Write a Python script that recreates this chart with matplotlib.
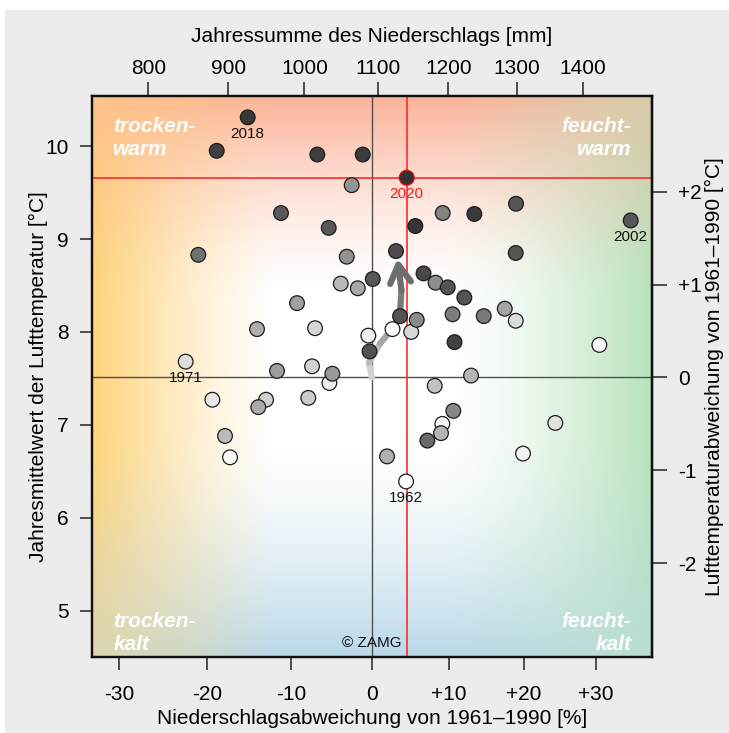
import numpy as np
import matplotlib

matplotlib.use("Agg")

import matplotlib.pyplot as plt
from matplotlib.collections import LineCollection
from matplotlib.patches import Rectangle
from matplotlib.ticker import FixedLocator, FuncFormatter


YEARS = list(range(1961, 2021))

# Niederschlagsabweichung [%] und Jahresmittel der Lufttemperatur [°C], 1961..2020
PRECIP_DEV = [
    2.65, 4.4, -17.33, 30.53, 9.12, 19.93, -0.43, -5.32, -19.40, 24.37,
    -22.48, 18.94, 5.06, -7.09, -7.46, -13.05, -7.92, 8.12, -17.92, -3.90,
    12.92, 8.95, 1.95, -14.13, -13.98, -1.76, 17.45, -9.30, -11.73, -4.95,
    -2.53, -3.15, 8.23, 5.78, 10.57, 9.17, 10.47, 14.62, -21.03, 7.16,
    -11.25, 34.99, -5.40, 0.13, 18.98, 18.94, 9.83, 12.03, 3.62, -0.28,
    3.10, 6.66, 10.73, -18.89, -6.81, -1.14, 13.36, -15.24, 5.60, 4.48,
]
TEMP_MEAN = [
    8.03, 6.39, 6.65, 7.86, 7.01, 6.69, 7.96, 7.45, 7.27, 7.02,
    7.68, 8.12, 8.00, 8.04, 7.63, 7.27, 7.29, 7.42, 6.88, 8.52,
    7.53, 6.91, 6.66, 8.03, 7.19, 8.47, 8.25, 8.31, 7.58, 7.55,
    9.58, 8.81, 8.53, 8.13, 7.15, 9.28, 8.19, 8.17, 8.83, 6.83,
    9.28, 9.20, 9.12, 8.57, 9.38, 8.85, 8.48, 8.37, 8.17, 7.79,
    8.87, 8.63, 7.89, 9.95, 9.91, 9.91, 9.27, 10.31, 9.14, 9.66,
]
LABELLED_YEARS = [1962, 1971, 2002, 2018, 2020]

# gleitende Klimamittel (Pfeil)
TREND_PRECIP_DEV = [0.0, -0.35, 1.1, 2.6, 3.6, 3.8, 3.3]
TREND_TEMP = [7.51, 7.67, 7.88, 8.03, 8.17, 8.45, 8.79]

NORMAL_TEMP = 7.51
NORMAL_PRECIP_MM = 1091.7

X_TICKS = [-30, -20, -10, 0, 10, 20, 30]
TOP_TICKS_MM = [800, 900, 1000, 1100, 1200, 1300, 1400]
Y_TICKS = [5, 6, 7, 8, 9, 10]
ANOMALY_TICKS = [-2, -1, 0, 1, 2]

X_LIMITS = (-32.92, 38.05)
Y_LIMITS = (4.50, 10.54)

POWER = 0.6

# Grauwert je Jahr (hell = frueh, dunkel = spaet)
SHADE_YEARS = [1961, 1967, 1971, 1977, 1979, 1985, 1990, 1995, 1998, 2000, 2001, 2010, 2013, 2020]
SHADE_GRAY = [1.0, 0.94, 0.87, 0.80, 0.73, 0.67, 0.60, 0.53, 0.47, 0.41, 0.35, 0.32, 0.26, 0.20]


def fwd_pct(p):
    return np.power(np.clip(1 + np.asarray(p, dtype=float) / 100.0, 1e-6, None), POWER)


def inv_pct(t):
    return (np.power(np.clip(np.asarray(t, dtype=float), 1e-6, None), 1 / POWER) - 1) * 100.0


def fwd_mm(mm):
    return np.power(np.clip(np.asarray(mm, dtype=float) / NORMAL_PRECIP_MM, 1e-6, None), POWER)


def inv_mm(t):
    return np.power(np.clip(np.asarray(t, dtype=float), 1e-6, None), 1 / POWER) * NORMAL_PRECIP_MM


def signed(value, _pos=None):
    if abs(value) < 1e-9:
        return "0"
    return f"{value:+.0f}"


def background_image(n=300):
    u = np.broadcast_to(np.linspace(0, 1, n)[None, :], (n, n))
    v = np.broadcast_to(np.linspace(0, 1, n)[:, None], (n, n))

    def fade(dist, width, gamma=1.5):
        return np.clip(1 - dist / width, 0, 1) ** gamma

    layers = [
        (fade(u, 0.33, 1.3), (1.00, 0.83, 0.48)),   # trocken
        (fade(1 - u, 0.38), (0.72, 0.89, 0.74)),    # feucht
        (fade(1 - v, 0.36), (0.99, 0.70, 0.60)),    # warm
        (fade(v, 0.40, 1.6), (0.73, 0.85, 0.91)),   # kalt
    ]
    total = np.zeros((n, n))
    mix = np.zeros((n, n, 3))
    keep = np.ones((n, n))
    for weight, color in layers:
        total += weight
        mix += weight[..., None] * np.array(color)
        keep *= 1 - weight
    mix = mix / np.maximum(total, 1e-9)[..., None]
    strength = (1 - keep)[..., None]
    return (1 - strength) * np.ones(3) + strength * mix


plt.rcParams["font.family"] = ["Liberation Sans", "DejaVu Sans"]
plt.rcParams["axes.unicode_minus"] = False

fig = plt.figure(figsize=(7.29, 7.33), dpi=100, facecolor="white")
fig.patches.append(
    Rectangle((5 / 729, 0), 1, 723 / 733, transform=fig.transFigure,
              facecolor="#ececec", edgecolor="none", zorder=-10)
)
ax = fig.add_axes([92 / 729, 76 / 733, 560 / 729, 561 / 733])
ax.set_xscale("function", functions=(fwd_pct, inv_pct))

ax.imshow(background_image(), extent=(0, 1, 0, 1), transform=ax.transAxes,
          origin="lower", aspect="auto", interpolation="bilinear", zorder=0)

ax.set_xlim(*X_LIMITS)
ax.set_ylim(*Y_LIMITS)

ax.axhline(NORMAL_TEMP, color="#505050", lw=1.0, zorder=1)
ax.axvline(0, color="#505050", lw=1.0, zorder=1)
ax.axhline(TEMP_MEAN[-1], color="#ff2b2b", lw=1.2, zorder=1)
ax.axvline(PRECIP_DEV[-1], color="#ff2b2b", lw=1.2, zorder=1)

# Pfeil der Klimamittel
trend_pts = np.column_stack([TREND_PRECIP_DEV, TREND_TEMP])
segments = [trend_pts[i:i + 2] for i in range(len(trend_pts) - 2)]
seg_gray = np.linspace(0.82, 0.48, len(segments))
ax.add_collection(LineCollection(segments, colors=[(g, g, g) for g in seg_gray],
                                 linewidths=4.5, capstyle="round", joinstyle="round", zorder=2))
ax.annotate("", xy=trend_pts[-1], xytext=trend_pts[-2],
            arrowprops=dict(arrowstyle="->,head_length=1.3,head_width=0.75",
                            color="#6e6e6e", lw=4.5, shrinkA=0, shrinkB=0,
                            capstyle="round", joinstyle="round"),
            zorder=2)

years = np.array(YEARS)
gray = np.interp(years, SHADE_YEARS, SHADE_GRAY)
face = [(g, g, g) for g in gray]
edge = ["#1c1c1c"] * len(YEARS)
edge[-1] = "#e00000"
ax.scatter(PRECIP_DEV, TEMP_MEAN, s=112, c=face, edgecolors=edge, linewidths=0.9, zorder=4)

for year in LABELLED_YEARS:
    i = YEARS.index(year)
    ax.annotate(str(year), (PRECIP_DEV[i], TEMP_MEAN[i]), xytext=(0, -12),
                textcoords="offset points", ha="center", va="center", fontsize=11,
                color="#ff1a1a" if year == 2020 else "#111111", zorder=5)

quad_style = dict(transform=ax.transAxes, color="white", fontsize=15,
                  fontweight="bold", fontstyle="italic", linespacing=1.25, zorder=3)
ax.text(0.038, 0.962, "trocken-\nwarm", ha="left", va="top", **quad_style)
ax.text(0.963, 0.962, "feucht-\nwarm", ha="right", va="top", multialignment="right", **quad_style)
ax.text(0.038, 0.005, "trocken-\nkalt", ha="left", va="bottom", **quad_style)
ax.text(0.963, 0.005, "feucht-\nkalt", ha="right", va="bottom", multialignment="right", **quad_style)
ax.text((371.5 - 92) / 560, 0.012, "© ZAMG", transform=ax.transAxes, ha="center",
        va="bottom", fontsize=11, color="#111111", zorder=3)

ax.xaxis.set_major_locator(FixedLocator(X_TICKS))
ax.xaxis.set_major_formatter(FuncFormatter(signed))
ax.yaxis.set_major_locator(FixedLocator(Y_TICKS))
ax.yaxis.set_minor_locator(FixedLocator([]))
ax.xaxis.set_minor_locator(FixedLocator([]))
ax.tick_params(axis="both", direction="out", length=9, width=1.1, labelsize=15,
               color="#222222", pad=8)
ax.tick_params(axis="x", pad=11)
ax.set_xlabel("Niederschlagsabweichung von 1961–1990 [%]", fontsize=15, labelpad=4)
ax.set_ylabel("Jahresmittelwert der Lufttemperatur [°C]", fontsize=15, labelpad=-2)

ax_top = ax.twiny()
ax_top.set_xscale("function", functions=(fwd_mm, inv_mm))
ax_top.set_xlim(NORMAL_PRECIP_MM * (1 + X_LIMITS[0] / 100), NORMAL_PRECIP_MM * (1 + X_LIMITS[1] / 100))
ax_top.xaxis.set_major_locator(FixedLocator(TOP_TICKS_MM))
ax_top.xaxis.set_minor_locator(FixedLocator([]))
ax_top.tick_params(axis="x", direction="out", length=10, width=1.1, labelsize=15,
                   color="#222222", pad=3)
ax_top.set_xlabel("Jahressumme des Niederschlags [mm]", fontsize=15, labelpad=12)

ax_right = ax.secondary_yaxis("right", functions=(lambda t: t - NORMAL_TEMP, lambda a: a + NORMAL_TEMP))
ax_right.yaxis.set_major_locator(FixedLocator(ANOMALY_TICKS))
ax_right.yaxis.set_major_formatter(FuncFormatter(signed))
ax_right.tick_params(axis="y", direction="out", length=11, width=1.1, labelsize=15,
                     color="#222222", pad=8)
ax_right.set_ylabel("Lufttemperaturabweichung von 1961–1990 [°C]", fontsize=15, labelpad=2)

for axis in (ax, ax_top, ax_right):
    for spine in axis.spines.values():
        spine.set_linewidth(1.6)
        spine.set_color("#111111")

fig.savefig("out.png", dpi=100, facecolor=fig.get_facecolor())
